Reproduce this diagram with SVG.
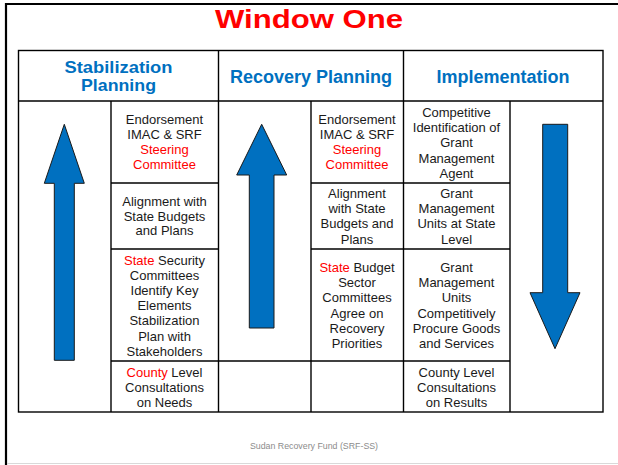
<svg xmlns="http://www.w3.org/2000/svg" width="618" height="465" viewBox="0 0 618 465">
<style>
.grid{stroke:#000;stroke-width:1.4;fill:none}
.title{font-family:"Liberation Sans",Arial,sans-serif;font-weight:bold;font-size:26px;fill:#FF0000}
.hdr{font-family:"Liberation Sans",Arial,sans-serif;font-weight:bold;font-size:18px;fill:#0070C0;text-anchor:middle}
.hdr2{font-family:"Liberation Sans",Arial,sans-serif;font-weight:bold;font-size:17px;fill:#0070C0;text-anchor:middle}
.t{font-family:"Liberation Sans",Arial,sans-serif;font-size:13px;fill:#1a1a1a;text-anchor:middle}
.r{fill:#FF0000}
.arrow{fill:#0070C0;stroke:#1a1a1a;stroke-width:1}
.foot{font-family:"Liberation Sans",Arial,sans-serif;font-size:8.8px;fill:#8c8c8c;text-anchor:middle}
</style>
<rect width="618" height="465" fill="#fff"/>
<g id="frame">
<line x1="6" y1="4" x2="618" y2="4" stroke="#000" stroke-width="2.2"/>
<line x1="6" y1="3" x2="6" y2="465" stroke="#000" stroke-width="2.2"/>
<line x1="7" y1="463.5" x2="618" y2="463.5" stroke="#d9d9d9" stroke-width="1"/>
</g>
<text id="title" class="title" x="215" y="28.3" textLength="188" lengthAdjust="spacingAndGlyphs">Window One</text>
<g id="table">
<rect class="grid" x="18.5" y="50.5" width="584.5" height="361.5"/>
<line class="grid" x1="18.5" y1="101" x2="603" y2="101"/>
<line class="grid" x1="218.5" y1="50.5" x2="218.5" y2="412"/>
<line class="grid" x1="403.5" y1="50.5" x2="403.5" y2="412"/>
<line class="grid" x1="111" y1="101" x2="111" y2="412"/>
<line class="grid" x1="311" y1="101" x2="311" y2="412"/>
<line class="grid" x1="510" y1="101" x2="510" y2="412"/>
<line class="grid" x1="111" y1="183" x2="218.5" y2="183"/>
<line class="grid" x1="311" y1="183" x2="510" y2="183"/>
<line class="grid" x1="111" y1="249" x2="218.5" y2="249"/>
<line class="grid" x1="311" y1="249" x2="510" y2="249"/>
<line class="grid" x1="111" y1="361" x2="510" y2="361"/>
</g>
<g id="header-stabilization"><text class="hdr2" x="118.5" y="72.5" textLength="108" lengthAdjust="spacingAndGlyphs">Stabilization</text><text class="hdr2" x="118.5" y="91" textLength="75" lengthAdjust="spacingAndGlyphs">Planning</text></g>
<g id="header-recovery"><text class="hdr" x="311" y="83">Recovery Planning</text></g>
<g id="header-implementation"><text class="hdr" x="503" y="83">Implementation</text></g>

<g id="stab-endorsement">
<text class="t" x="164.5" y="123.5">Endorsement</text>
<text class="t" x="164.5" y="138.8">IMAC &amp; SRF</text>
<text class="t r" x="164.5" y="154.1">Steering</text>
<text class="t r" x="164.5" y="169.4">Committee</text>
</g>
<g id="stab-alignment">
<text class="t" x="164.5" y="205.5">Alignment with</text>
<text class="t" x="164.5" y="220.5">State Budgets</text>
<text class="t" x="164.5" y="235.3">and Plans</text>
</g>
<g id="stab-state">
<text class="t" x="164.5" y="264.5"><tspan class="r">State</tspan> Security</text>
<text class="t" x="164.5" y="279.7">Committees</text>
<text class="t" x="164.5" y="294.9">Identify Key</text>
<text class="t" x="164.5" y="310.1">Elements</text>
<text class="t" x="164.5" y="325.3">Stabilization</text>
<text class="t" x="164.5" y="340.5">Plan with</text>
<text class="t" x="164.5" y="355.7">Stakeholders</text>
</g>
<g id="stab-county">
<text class="t" x="164.5" y="376.5"><tspan class="r">County</tspan> Level</text>
<text class="t" x="164.5" y="391.5">Consultations</text>
<text class="t" x="164.5" y="406.5">on Needs</text>
</g>

<g id="rec-endorsement">
<text class="t" x="357" y="123.5">Endorsement</text>
<text class="t" x="357" y="138.8">IMAC &amp; SRF</text>
<text class="t r" x="357" y="154.1">Steering</text>
<text class="t r" x="357" y="169.4">Committee</text>
</g>
<g id="rec-alignment">
<text class="t" x="357" y="197.8">Alignment</text>
<text class="t" x="357" y="213.1">with State</text>
<text class="t" x="357" y="228.4">Budgets and</text>
<text class="t" x="357" y="243.7">Plans</text>
</g>
<g id="rec-state">
<text class="t" x="357" y="271.8"><tspan class="r">State</tspan> Budget</text>
<text class="t" x="357" y="287.1">Sector</text>
<text class="t" x="357" y="302.4">Committees</text>
<text class="t" x="357" y="317.7">Agree on</text>
<text class="t" x="357" y="333">Recovery</text>
<text class="t" x="357" y="348.3">Priorities</text>
</g>

<g id="imp-competitive">
<text class="t" x="456.5" y="116.8">Competitive</text>
<text class="t" x="456.5" y="132.1">Identification of</text>
<text class="t" x="456.5" y="147.4">Grant</text>
<text class="t" x="456.5" y="162.7">Management</text>
<text class="t" x="456.5" y="178">Agent</text>
</g>
<g id="imp-units">
<text class="t" x="456.5" y="197.8">Grant</text>
<text class="t" x="456.5" y="213.1">Management</text>
<text class="t" x="456.5" y="228.4">Units at State</text>
<text class="t" x="456.5" y="243.7">Level</text>
</g>
<g id="imp-procure">
<text class="t" x="456.5" y="271.8">Grant</text>
<text class="t" x="456.5" y="287.1">Management</text>
<text class="t" x="456.5" y="302.4">Units</text>
<text class="t" x="456.5" y="317.7">Competitively</text>
<text class="t" x="456.5" y="333">Procure Goods</text>
<text class="t" x="456.5" y="348.3">and Services</text>
</g>
<g id="imp-county">
<text class="t" x="456.5" y="376.5">County Level</text>
<text class="t" x="456.5" y="391.5">Consultations</text>
<text class="t" x="456.5" y="406.5">on Results</text>
</g>

<g id="connectors">
<polygon class="arrow" points="64.3,124.3 84.3,183.3 74.3,183.3 74.3,360.3 54.3,360.3 54.3,183.3 44.3,183.3"/>
<polygon class="arrow" points="261.7,124.3 286.7,175 274,175 274,328 249.3,328 249.3,175 236.7,175"/>
<polygon class="arrow" points="542.7,124.3 567.7,124.3 567.7,292.7 580,292.7 555,348.7 530,292.7 542.7,292.7"/>
</g>
<text id="footer" class="foot" x="314" y="449">Sudan Recovery Fund (SRF-SS)</text>
</svg>
